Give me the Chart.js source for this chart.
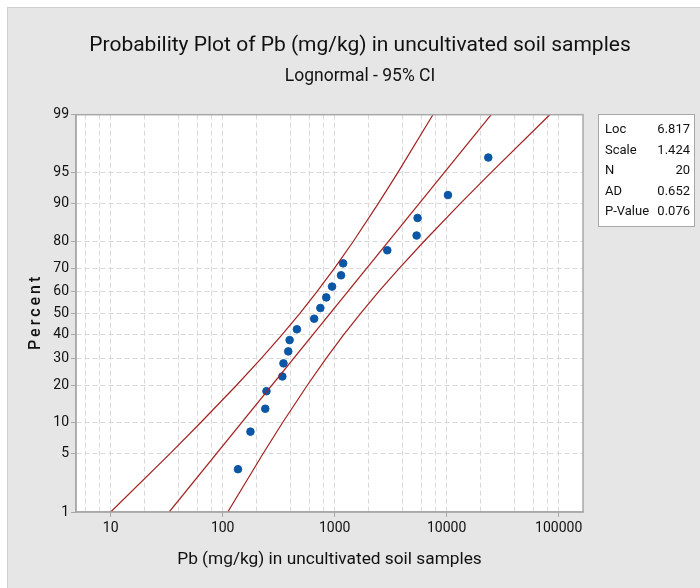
<!DOCTYPE html>
<html lang="en">
<head>
<meta charset="UTF-8">
<title>Probability Plot of Pb (mg/kg) in uncultivated soil samples</title>
<script src="https://cdn.jsdelivr.net/npm/chart.js"></script>
<style>
    html, body { margin: 0; padding: 0; background: #fff; }
    #caja { width: 700px; height: 588px; }
</style>
</head>
<body>
<div id="caja"><canvas id="grafico" width="700" height="588"></canvas></div>
<script>
// datos
const pbValues = [137, 177, 240, 246, 341, 349, 385, 396, 460, 656,
                  745, 841, 948, 1140, 1190, 2950, 5390, 5500, 10270, 23540];
const pbPercent = [3.4, 8.3, 13.2, 18.1, 23.0, 27.9, 32.8, 37.7, 42.6, 47.5,
                   52.5, 57.4, 62.3, 67.2, 72.1, 77.0, 81.9, 86.8, 91.7, 96.6];
const fitX = [33.3, 25000];
const fitPercent = [1, 99];
const bandPercent = [1, 5, 10, 20, 30, 40, 50, 60, 70, 80, 90, 95, 99];
const bandLow = [10.0, 33.7, 63.4, 133, 222, 338, 489, 695, 990, 1464, 2440, 3650, 7540];
const bandHigh = [111, 229, 342, 570, 842, 1200, 1705, 2470, 3750, 6260, 13150, 24750, 83300];
const percentTicks = [1, 5, 10, 20, 30, 40, 50, 60, 70, 80, 90, 95, 99];
const xMajor = [10, 100, 1000, 10000, 100000];
const xMinor = [6, 8, 20, 40, 60, 80, 200, 400, 600, 800, 2000, 4000, 6000, 8000,
                20000, 40000, 60000, 80000];
const statNames = ['Loc', 'Scale', 'N', 'AD', 'P-Value'];
const statValues = ['6.817', '1.424', '20', '0.652', '0.076'];

const fuente = "Roboto, 'Open Sans', sans-serif";
const rojo = '#a3201f';
const azul = '#0b57a6';

// inversa de la normal (Acklam) para la escala de probabilidad
function probit(p) {
    const a = [-39.69683028665376, 220.9460984245205, -275.9285104469687, 138.357751867269, -30.66479806614716, 2.506628277459239];
    const b = [-54.47609879822406, 161.5858368580409, -155.6989798598866, 66.80131188771972, -13.28068155288572];
    const c = [-0.007784894002430293, -0.3223964580411365, -2.400758277161838, -2.549732539343734, 4.374664141464968, 2.938163982698783];
    const d = [0.007784695709041462, 0.3224671290700398, 2.445134137142996, 3.754408661907416];
    const pl = 0.02425;
    let q, r;
    if (p < pl) {
        q = Math.sqrt(-2 * Math.log(p));
        return (((((c[0]*q+c[1])*q+c[2])*q+c[3])*q+c[4])*q+c[5]) / ((((d[0]*q+d[1])*q+d[2])*q+d[3])*q+1);
    }
    if (p > 1 - pl) {
        q = Math.sqrt(-2 * Math.log(1 - p));
        return -(((((c[0]*q+c[1])*q+c[2])*q+c[3])*q+c[4])*q+c[5]) / ((((d[0]*q+d[1])*q+d[2])*q+d[3])*q+1);
    }
    q = p - 0.5;
    r = q * q;
    return (((((a[0]*r+a[1])*r+a[2])*r+a[3])*r+a[4])*r+a[5])*q / (((((b[0]*r+b[1])*r+b[2])*r+b[3])*r+b[4])*r+1);
}
const z = pct => probit(pct / 100);

function puntos(xs, ps) {
    return xs.map((x, i) => ({ x: x, y: z(ps[i]) }));
}

const fondo = {
    id: 'fondo',
    beforeDraw(chart) {
        const c = chart.ctx;
        c.save();
        c.fillStyle = '#ffffff';
        c.fillRect(0, 0, chart.width, chart.height);
        c.fillStyle = '#e6e6e6';
        c.fillRect(7, 7, chart.width - 7, chart.height - 7);
        c.strokeStyle = '#cfcfcf';
        c.lineWidth = 1;
        c.strokeRect(7.5, 7.5, chart.width, chart.height);
        const a = chart.chartArea;
        c.fillStyle = '#ffffff';
        c.fillRect(a.left, a.top, a.right - a.left, a.bottom - a.top);
        c.restore();
    },
    afterDraw(chart) {
        const c = chart.ctx;
        const a = chart.chartArea;
        c.save();
        c.strokeStyle = '#a8a8a8';
        c.lineWidth = 1.5;
        c.strokeRect(a.left, a.top, a.right - a.left, a.bottom - a.top);

        // titulo del eje y, con letras espaciadas
        c.save();
        c.translate(36, (a.top + a.bottom) / 2);
        c.rotate(-Math.PI / 2);
        c.fillStyle = '#111111';
        c.font = '500 16px ' + fuente;
        c.letterSpacing = '3px';
        c.textAlign = 'center';
        c.textBaseline = 'middle';
        c.fillText('Percent', 1.5, 0);
        c.restore();

        // cuadro de estadisticos
        c.fillStyle = '#ffffff';
        c.fillRect(598, 114, 96, 112);
        c.strokeStyle = '#a8a8a8';
        c.lineWidth = 1;
        c.strokeRect(598.5, 114.5, 96, 112);
        c.fillStyle = '#111111';
        c.font = '13px ' + fuente;
        c.textBaseline = 'middle';
        statNames.forEach((n, i) => {
            const y = 130 + i * 20.5;
            c.textAlign = 'left';
            c.fillText(n, 605, y);
            c.textAlign = 'right';
            c.fillText(statValues[i], 690, y);
        });
        c.restore();
    }
};

const ctx = document.getElementById('grafico').getContext('2d');
new Chart(ctx, {
    type: 'scatter',
    data: {
        datasets: [
            {
                type: 'line', data: puntos(bandLow, bandPercent), borderColor: rojo,
                borderWidth: 1.2, pointRadius: 0, fill: false, tension: 0
            },
            {
                type: 'line', data: puntos(fitX, fitPercent), borderColor: rojo,
                borderWidth: 1.2, pointRadius: 0, fill: false
            },
            {
                type: 'line', data: puntos(bandHigh, bandPercent), borderColor: rojo,
                borderWidth: 1.2, pointRadius: 0, fill: false, tension: 0
            },
            {
                data: puntos(pbValues, pbPercent), backgroundColor: azul, borderColor: azul,
                pointRadius: 3.8, pointStyle: 'circle'
            }
        ]
    },
    options: {
        responsive: false,
        animation: false,
        devicePixelRatio: 1,
        layout: { padding: { left: 20, right: 0, top: 0, bottom: 0 } },
        plugins: {
            legend: { display: false },
            tooltip: { enabled: false },
            title: {
                display: true,
                text: 'Probability Plot of Pb (mg/kg) in uncultivated soil samples',
                color: '#111',
                font: { family: fuente, size: 21, weight: 'normal' },
                padding: { top: 33.5, bottom: 4 }
            },
            subtitle: {
                display: true,
                text: 'Lognormal - 95% CI',
                color: '#111',
                font: { family: fuente, size: 17.5 },
                padding: { top: 3.5, bottom: 27.5 }
            }
        },
        scales: {
            x: {
                type: 'logarithmic',
                min: 4.9,
                max: 165000,
                afterFit(s) { s.height = 76; },
                afterBuildTicks(s) {
                    s.ticks = xMinor.concat(xMajor).sort((p, q) => p - q).map(v => ({ value: v }));
                },
                ticks: {
                    autoSkip: false,
                    maxRotation: 0,
                    padding: 3,
                    color: '#111',
                    font: { family: fuente, size: 14 },
                    callback: v => xMajor.includes(v) ? String(v) : ''
                },
                grid: {
                    color: '#d9d9d9',
                    lineWidth: 1,
                    tickLength: 5,
                    tickColor: c => (c.tick && xMajor.includes(c.tick.value)) ? '#a8a8a8' : 'rgba(0,0,0,0)'
                },
                border: { color: '#a8a8a8', width: 1.5, dash: [5, 3] },
                title: {
                    display: true,
                    text: 'Pb (mg/kg) in uncultivated soil samples',
                    color: '#111',
                    font: { family: fuente, size: 17.3 },
                    padding: { top: 0, bottom: 18 }
                }
            },
            y: {
                type: 'linear',
                min: z(1),
                max: z(99),
                afterFit(s) { s.width = 56; },
                afterBuildTicks(s) {
                    s.ticks = percentTicks.map(p => ({ value: z(p) }));
                },
                ticks: {
                    autoSkip: false,
                    padding: 2,
                    color: '#111',
                    font: { family: fuente, size: 14 },
                    callback: (v, i) => String(percentTicks[i])
                },
                grid: {
                    color: '#d9d9d9',
                    lineWidth: 1,
                    tickLength: 5,
                    tickColor: '#a8a8a8'
                },
                border: { color: '#a8a8a8', width: 1.5, dash: [5, 3] }
            },
            derecha: {
                type: 'linear',
                position: 'right',
                afterFit(s) { s.width = 117; },
                ticks: { display: false },
                grid: { display: false },
                border: { display: false }
            }
        }
    },
    plugins: [fondo]
});
</script>
</body>
</html>
